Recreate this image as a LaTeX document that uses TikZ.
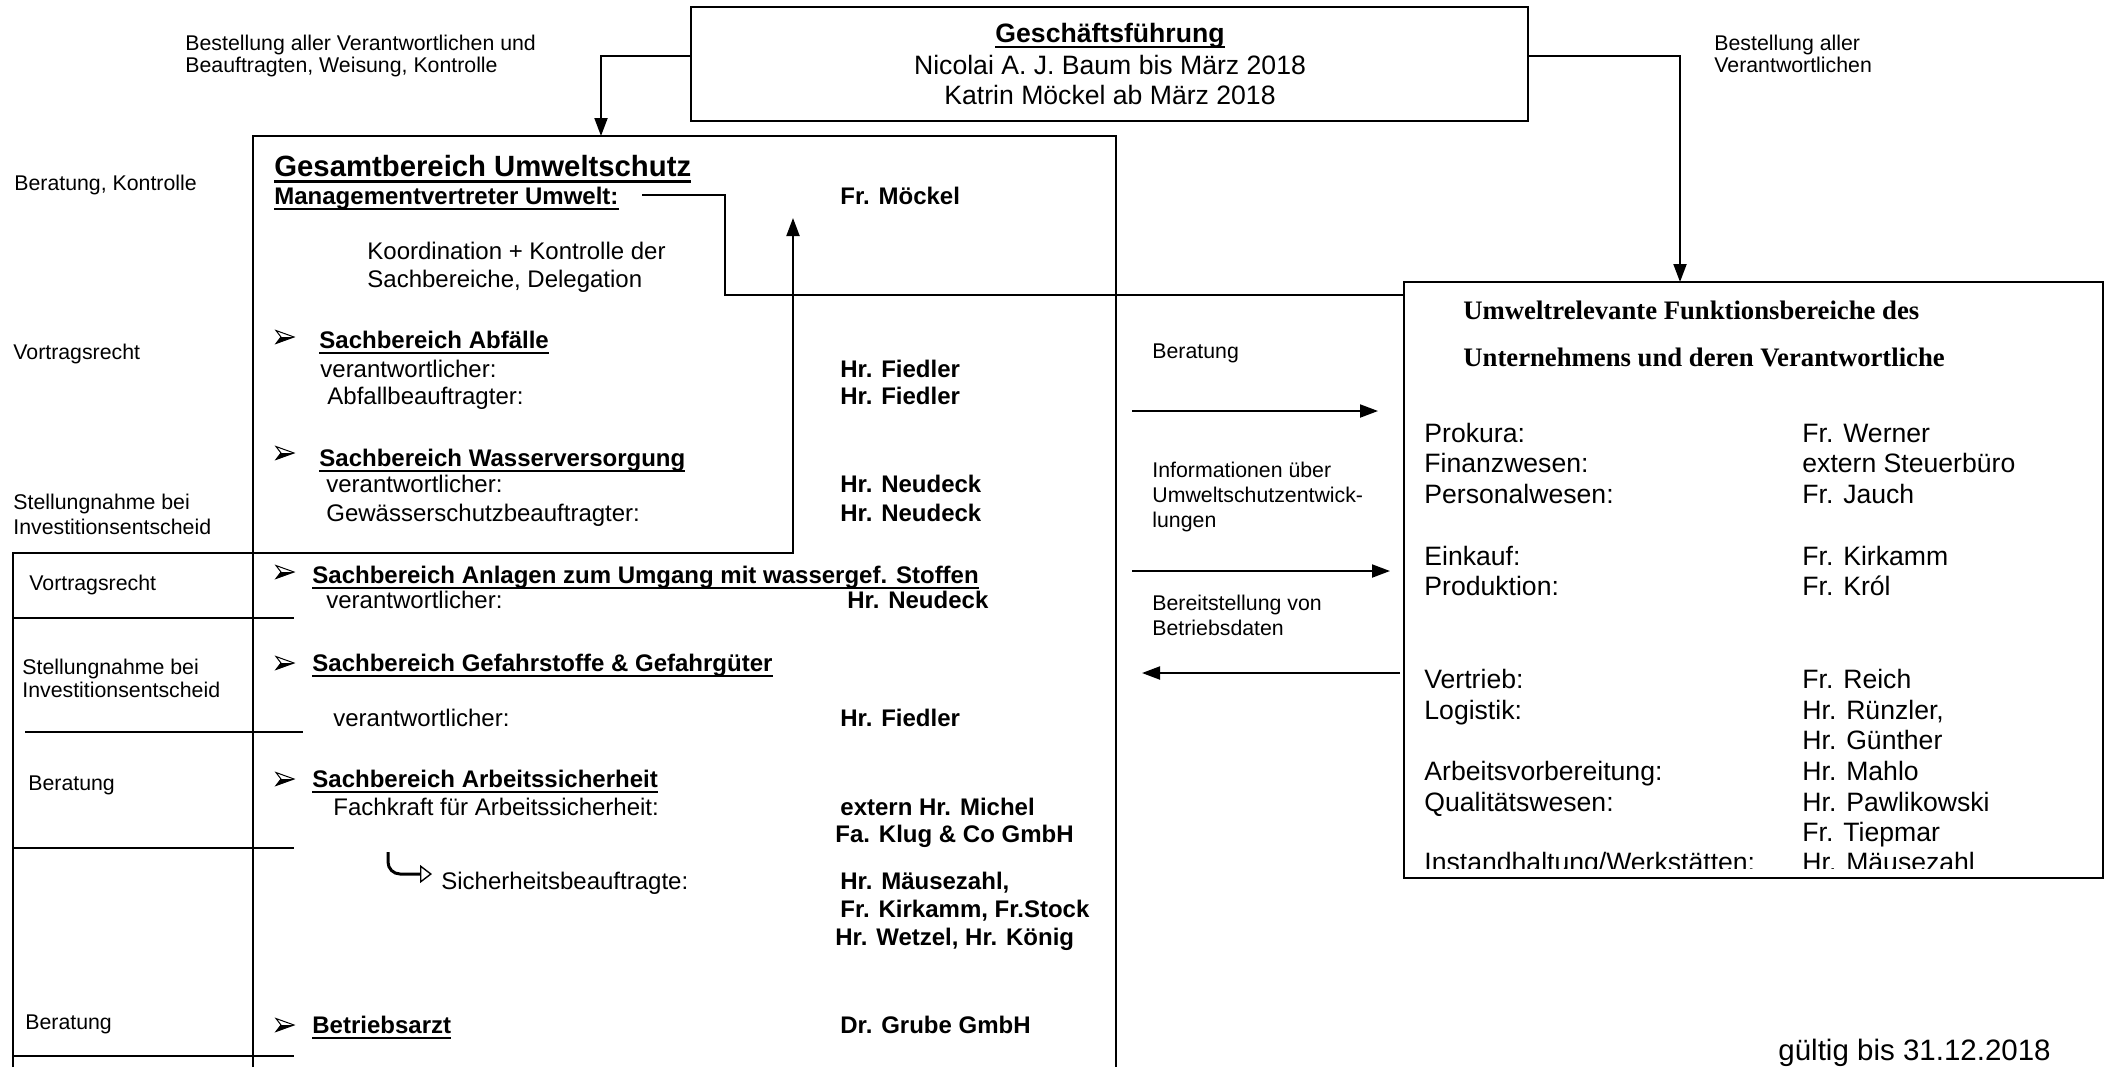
\documentclass[tikz,border=0pt]{standalone}
\usepackage{fontspec}
\setmainfont{Liberation Sans}
\newfontfamily\serifb{Liberation Serif}
\usetikzlibrary{arrows.meta,fit}
\newcommand\ulx[1]{\setbox0\hbox{#1}\rlap{\rule[-3.1pt]{\wd0}{1.1pt}}\box0}
\newcommand\ulh[1]{\setbox0\hbox{#1}\rlap{\rule[-3.6pt]{\wd0}{1.4pt}}\box0}
\tikzset{
 txt/.style={anchor=base west, inner sep=0pt, font=\fontsize{12}{14}\selectfont},
 txtb/.style={anchor=base west, inner sep=0pt, font=\fontsize{12}{14}\selectfont\bfseries},
 lab/.style={anchor=base west, inner sep=0pt, font=\fontsize{10.65}{12}\selectfont},
 rtx/.style={anchor=base west, inner sep=0pt, font=\fontsize{13.3}{15}\selectfont},
 arr/.style={line width=1pt, -{Triangle[length=9pt,width=6.5pt]}},
 ln/.style={line width=1pt},
 boxx/.style={draw, line width=1pt, inner sep=0pt},
 barrow/.pic={
   \draw[line width=0.5pt, line join=miter] (-9,-6.5) -- (9,0) -- (-9,6.5) -- (-4,0) -- cycle;
   \fill (-4,0) -- (9,0) -- (-9,6.5) -- cycle;
 },
}
\begin{document}
\begin{tikzpicture}[x=0.5pt,y=-0.5pt]
\useasboundingbox (0,0) rectangle (2107,1067);
\fill[white] (0,0) rectangle (2107,1067);

% Geschaeftsfuehrung
\node[boxx, fit={(691,7) (1528,121)}] (gf) {};
\node[anchor=base, inner sep=0pt, font=\fontsize{13.3}{15}\selectfont\bfseries] (gft) at (1110,42) {\ulx{Geschäftsführung}};
\node[anchor=base, inner sep=0pt, font=\fontsize{13.3}{15}\selectfont] (gf1) at (1110,74) {Nicolai A. J. Baum bis März 2018};
\node[anchor=base, inner sep=0pt, font=\fontsize{13.3}{15}\selectfont] (gf2) at (1110,104) {Katrin Möckel ab März 2018};

% top labels
\node[lab] (tl1) at (185,50) {Bestellung aller Verantwortlichen und};
\node[lab] (tl2) at (185,72) {Beauftragten, Weisung, Kontrolle};
\node[lab] (tr1) at (1714,50) {Bestellung aller};
\node[lab] (tr2) at (1714,72) {Verantwortlichen};

% Gesamtbereich box (open at bottom)
\coordinate (gbbl) at (253,1067);
\coordinate (gbtl) at (253,136);
\coordinate (gbtr) at (1116,136);
\coordinate (gbbr) at (1116,1067);
\draw[line width=0.9pt] (gbbl) -- (gbtl) -- (gbtr) -- (gbbr);

% right box
\node[boxx, fit={(1404,282) (2103,878)}] (rb) {};

% arrows from GF
\coordinate (y56) at (0,56);
\coordinate (gbin) at (601,136);
\coordinate (rbin) at (1680,282);
\draw[arr] (gf.west |- y56) -| (gbin);
\draw[arr] (gf.east |- y56) -| (rbin);

% Gesamtbereich content
\node[anchor=base west, inner sep=0pt, font=\fontsize{14.65}{16}\selectfont\bfseries] (h1) at (274,176) {\ulh{Gesamtbereich Umweltschutz}};
\node[txtb] (h2) at (274,204) {\ulx{Managementvertreter Umwelt:}};
\node[txtb] (h2v) at (840,204) {Fr. Möckel};
\node[txt] (k1) at (367,259) {Koordination + Kontrolle der};
\node[txt] (k2) at (367,287) {Sachbereiche, Delegation};

\coordinate (mvend) at (642,195);
\coordinate (mvturn) at (725,295);
\draw[ln] (mvend) -| (mvturn) -- (rb.west |- mvturn);

% left column
\node[lab] (L1) at (14,190) {Beratung, Kontrolle};
\node[lab] (L2) at (13,359) {Vortragsrecht};
\node[lab] (L3) at (13,509) {Stellungnahme bei};
\node[lab] (L3b) at (13,534) {Investitionsentscheid};
\node[lab] (L4) at (29,590) {Vortragsrecht};
\node[lab] (L5) at (22,674) {Stellungnahme bei};
\node[lab] (L5b) at (22,697) {Investitionsentscheid};
\node[lab] (L6) at (28,790) {Beratung};
\node[lab] (L7) at (25,1029) {Beratung};

\coordinate (c0b) at (13,1067);
\coordinate (c0) at (13,553);
\coordinate (upt) at (793,218);
\draw[arr] (c0b) -- (c0) -| (upt);
\draw[ln] (13,618) -- (294,618);
\draw[ln] (25,732) -- (303,732);
\draw[ln] (13,848) -- (294,848);
\draw[ln] (13,1056) -- (294,1056);

% bullets
\pic at (285,337) {barrow};
\pic at (285,453) {barrow};
\pic at (285,572) {barrow};
\pic at (285,663) {barrow};
\pic at (285,779) {barrow};
\pic at (285,1025) {barrow};

% sections
\node[txtb] (s1) at (319,348) {\ulx{Sachbereich Abfälle}};
\node[txt] (s1a) at (320,377) {verantwortlicher:};
\node[txtb] (s1av) at (840,377) {Hr. Fiedler};
\node[txt] (s1b) at (327,404) {Abfallbeauftragter:};
\node[txtb] (s1bv) at (840,404) {Hr. Fiedler};
\node[txtb] (s2) at (319,466) {\ulx{Sachbereich Wasserversorgung}};
\node[txt] (s2a) at (326,492) {verantwortlicher:};
\node[txtb] (s2av) at (840,492) {Hr. Neudeck};
\node[txt] (s2b) at (326,521) {Gewässerschutzbeauftragter:};
\node[txtb] (s2bv) at (840,521) {Hr. Neudeck};
\node[txtb] (s3) at (312,583) {\ulx{Sachbereich Anlagen zum Umgang mit wassergef. Stoffen}};
\node[txt] (s3a) at (326,608) {verantwortlicher:};
\node[txtb] (s3av) at (847,608) {Hr. Neudeck};
\node[txtb] (s4) at (312,671) {\ulx{Sachbereich Gefahrstoffe \& Gefahrgüter}};
\node[txt] (s4a) at (333,726) {verantwortlicher:};
\node[txtb] (s4av) at (840,726) {Hr. Fiedler};
\node[txtb] (s5) at (312,787) {\ulx{Sachbereich Arbeitssicherheit}};
\node[txt] (s5a) at (333,815) {Fachkraft für Arbeitssicherheit:};
\node[txtb] (s5av) at (840,815) {extern Hr. Michel};
\node[txtb] (s5av2) at (835,842) {Fa. Klug \& Co GmbH};
\node[txt] (s5b) at (441,889) {Sicherheitsbeauftragte:};
\node[txtb] (s5bv) at (840,889) {Hr. Mäusezahl,};
\node[txtb] (s5bv2) at (840,917) {Fr. Kirkamm, Fr.Stock};
\node[txtb] (s5bv3) at (835,945) {Hr. Wetzel, Hr. König};
\node[txtb] (s6) at (312,1033) {\ulx{Betriebsarzt}};
\node[txtb] (s6v) at (840,1033) {Dr. Grube GmbH};

% hook arrow
\coordinate (hk1) at (388,852);
\coordinate (hk2) at (432,874);
\draw[line width=1.5pt, rounded corners=6pt, -{Triangle[open,length=6pt,width=9pt,line width=0.7pt]}] (hk1) |- (hk2);

% middle labels and arrows
\node[lab] (m1) at (1152,358) {Beratung};
\node[lab] (m2) at (1152,477) {Informationen über};
\node[lab] (m2b) at (1152,502) {Umweltschutzentwick-};
\node[lab] (m2c) at (1152,527) {lungen};
\node[lab] (m3) at (1152,610) {Bereitstellung von};
\node[lab] (m3b) at (1152,635) {Betriebsdaten};
\coordinate (a1s) at (1132,411); \coordinate (a1e) at (1378,411);
\coordinate (a2s) at (1132,571); \coordinate (a2e) at (1390,571);
\coordinate (a3s) at (1400,673); \coordinate (a3e) at (1142,673);
\draw[arr] (a1s) -- (a1e);
\draw[arr] (a2s) -- (a2e);
\draw[arr] (a3s) -- (a3e);

% right box content
\node[anchor=base west, inner sep=0pt, font=\serifb\bfseries\fontsize{13.35}{15}\selectfont] (rt1) at (1463,319) {Umweltrelevante Funktionsbereiche des};
\node[anchor=base west, inner sep=0pt, font=\serifb\bfseries\fontsize{13.35}{15}\selectfont] (rt2) at (1463,366) {Unternehmens und deren Verantwortliche};
\begin{scope}
\clip (1404,282) rectangle (2103,868);
\node[rtx] (r1) at (1424,442) {Prokura:};
\node[rtx] (r1v) at (1802,442) {Fr. Werner};
\node[rtx] (r2) at (1424,472) {Finanzwesen:};
\node[rtx] (r2v) at (1802,472) {extern Steuerbüro};
\node[rtx] (r3) at (1424,503) {Personalwesen:};
\node[rtx] (r3v) at (1802,503) {Fr. Jauch};
\node[rtx] (r4) at (1424,565) {Einkauf:};
\node[rtx] (r4v) at (1802,565) {Fr. Kirkamm};
\node[rtx] (r5) at (1424,595) {Produktion:};
\node[rtx] (r5v) at (1802,595) {Fr. Król};
\node[rtx] (r6) at (1424,688) {Vertrieb:};
\node[rtx] (r6v) at (1802,688) {Fr. Reich};
\node[rtx] (r7) at (1424,719) {Logistik:};
\node[rtx] (r7v) at (1802,719) {Hr. Rünzler,};
\node[rtx] (r7w) at (1802,749) {Hr. Günther};
\node[rtx] (r8) at (1424,780) {Arbeitsvorbereitung:};
\node[rtx] (r8v) at (1802,780) {Hr. Mahlo};
\node[rtx] (r9) at (1424,811) {Qualitätswesen:};
\node[rtx] (r9v) at (1802,811) {Hr. Pawlikowski};
\node[rtx] (r9w) at (1802,841) {Fr. Tiepmar};
\node[rtx] (r10) at (1424,871) {Instandhaltung/Werkstätten:};
\node[rtx] (r10v) at (1802,871) {Hr. Mäusezahl};
\end{scope}

\node[anchor=base west, inner sep=0pt, font=\fontsize{14.75}{16}\selectfont] (gv) at (1778,1060) {gültig bis 31.12.2018};
\end{tikzpicture}
\end{document}
